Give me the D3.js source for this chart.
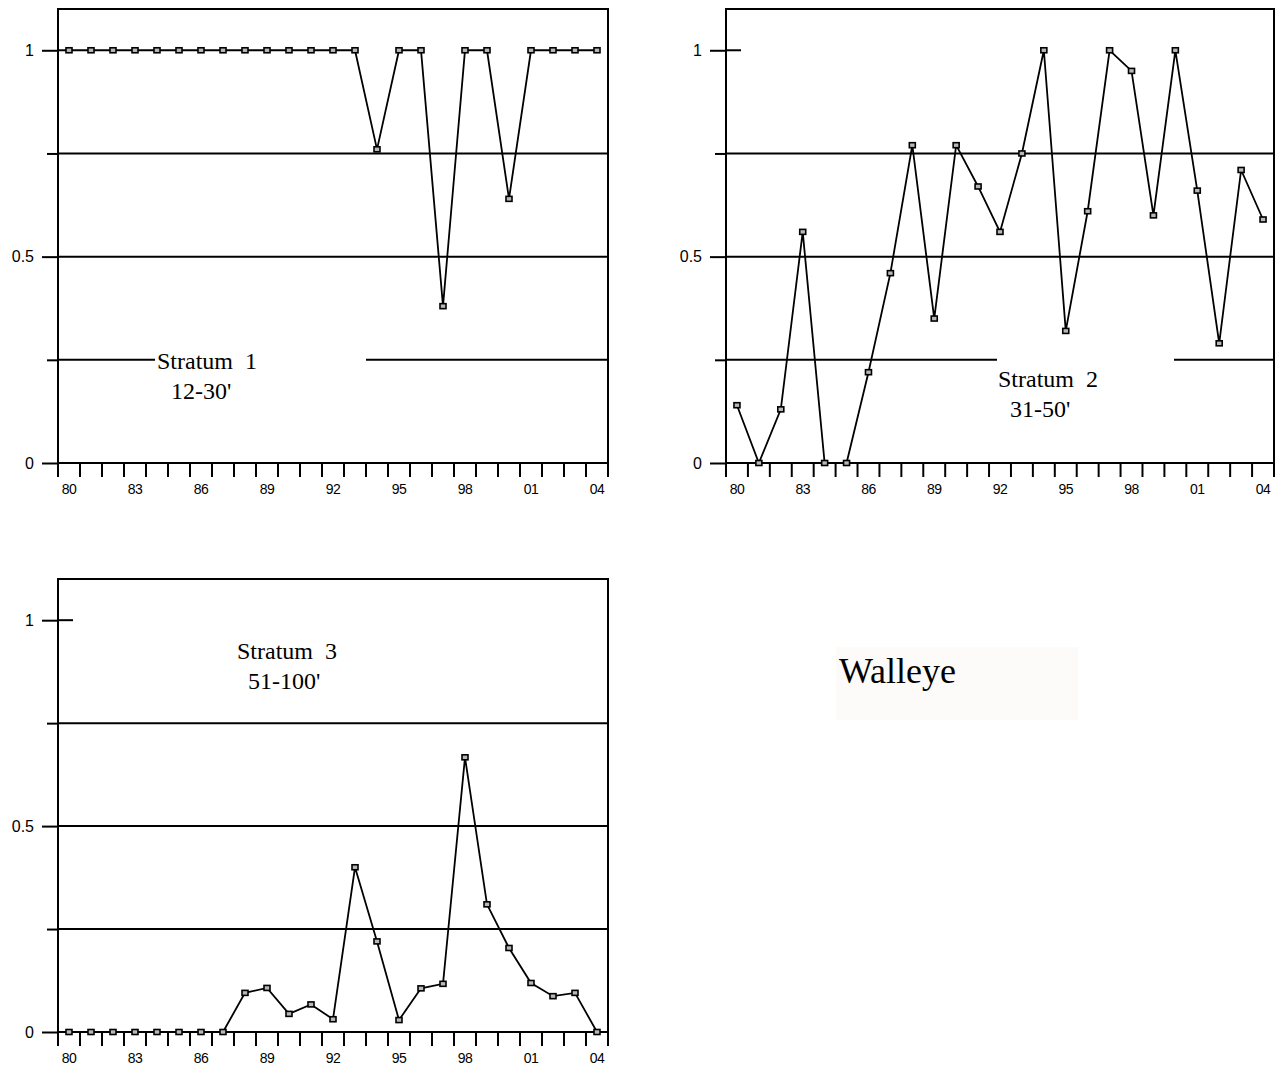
<!DOCTYPE html>
<html>
<head>
<meta charset="utf-8">
<script src="https://cdn.jsdelivr.net/npm/d3@7"></script>
<style>
  html, body { margin: 0; padding: 0; background: #fff; }
  svg { display: block; }
</style>
</head>
<body>
<svg id="chart" width="1281" height="1068"></svg>
<script>
// Survey years, 1980–2004 (two-digit labels)
const years = ["80","81","82","83","84","85","86","87","88","89","90","91","92",
               "93","94","95","96","97","98","99","00","01","02","03","04"];
const yearTickLabels = ["80","83","86","89","92","95","98","01","04"];

// Proportion values per depth stratum
const stratum1 = [1,1,1,1,1,1,1,1,1,1,1,1,1,1,0.76,1,1,0.38,1,1,0.64,1,1,1,1];
const stratum2 = [0.14,0,0.13,0.56,0,0,0.22,0.46,0.77,0.35,0.77,0.67,0.56,0.75,
                  1,0.32,0.61,1,0.95,0.60,1,0.66,0.29,0.71,0.59];
const stratum3 = [0,0,0,0,0,0,0,0,0.095,0.107,0.044,0.067,0.031,0.40,0.22,0.029,
                  0.106,0.117,0.667,0.31,0.204,0.119,0.087,0.095,0];

const yLabelTicks = [0, 0.5, 1];
const yMinorTicks = [0.25, 0.75];
const gridValues = [0.25, 0.5, 0.75];

const svg = d3.select("#chart");
svg.append("rect").attr("width", 1281).attr("height", 1068).attr("fill", "#fff");

function drawPanel(p) {
  const g = svg.append("g");
  const x = d3.scaleBand().domain(years).range([p.left, p.right]);
  const y = d3.scaleLinear().domain([0, 1.1]).range([p.zero, p.top]);

  // gridlines
  g.selectAll("line.grid").data(gridValues).join("line")
    .attr("x1", p.left).attr("x2", p.right)
    .attr("y1", d => y(d)).attr("y2", d => y(d))
    .attr("stroke", "#000").attr("stroke-width", 2);
  // short inner mark at 1
  g.append("line")
    .attr("x1", p.left).attr("x2", p.left + 15)
    .attr("y1", y(1)).attr("y2", y(1))
    .attr("stroke", "#000").attr("stroke-width", 2);

  // label box interrupting the gridline
  if (p.box) {
    g.append("rect")
      .attr("x", p.box[0]).attr("y", p.box[1])
      .attr("width", p.box[2]).attr("height", p.box[3])
      .attr("fill", "#fff");
  }

  // frame: top, left, right, bottom(0)
  g.append("path")
    .attr("d", `M${p.left},${p.zero}V${p.top}H${p.right}V${p.zero}`)
    .attr("fill", "none").attr("stroke", "#000").attr("stroke-width", 2);
  g.append("line")
    .attr("x1", p.left).attr("x2", p.right)
    .attr("y1", y(0)).attr("y2", y(0))
    .attr("stroke", "#000").attr("stroke-width", 2);

  // y axis: labelled ticks
  const yAxis = g.append("g").attr("transform", `translate(${p.left},0)`)
    .call(d3.axisLeft(y).tickValues(yLabelTicks).tickSize(16).tickPadding(8)
      .tickFormat(d3.format("")));
  yAxis.select(".domain").remove();
  yAxis.selectAll(".tick line").attr("stroke", "#000").attr("stroke-width", 2);
  yAxis.selectAll(".tick text")
    .attr("font-family", "'Liberation Sans', Arial, sans-serif")
    .attr("font-size", 16).attr("fill", "#000");

  // y axis: unlabelled ticks
  const yMinor = g.append("g").attr("transform", `translate(${p.left},0)`)
    .call(d3.axisLeft(y).tickValues(yMinorTicks).tickSize(11).tickFormat(""));
  yMinor.select(".domain").remove();
  yMinor.selectAll(".tick line").attr("stroke", "#000").attr("stroke-width", 2);

  // x ticks at year boundaries
  const bounds = years.map(d => x(d)).concat([p.right]);
  g.selectAll("line.xt").data(bounds).join("line")
    .attr("x1", d => d).attr("x2", d => d)
    .attr("y1", y(0)).attr("y2", y(0) + 14)
    .attr("stroke", "#000").attr("stroke-width", 2);
  g.selectAll("text.xl").data(yearTickLabels).join("text")
    .attr("x", d => x(d) + x.bandwidth() / 2)
    .attr("y", y(0) + 31)
    .attr("text-anchor", "middle")
    .attr("font-family", "'Liberation Sans', Arial, sans-serif")
    .attr("font-size", 14).attr("letter-spacing", -0.6)
    .attr("fill", "#000")
    .text(d => d);

  // series line + square markers
  const pts = years.map((yr, i) => ({ yr, v: p.values[i] }));
  const line = d3.line().x(d => x(d.yr) + x.bandwidth() / 2).y(d => y(d.v));
  g.append("path").datum(pts)
    .attr("d", line).attr("fill", "none")
    .attr("stroke", "#000").attr("stroke-width", 1.8);
  g.selectAll("rect.m").data(pts).join("rect")
    .attr("x", d => x(d.yr) + x.bandwidth() / 2 - 3)
    .attr("y", d => y(d.v) - 2.5)
    .attr("width", 6).attr("height", 5)
    .attr("fill", "#b8b8b8").attr("stroke", "#000").attr("stroke-width", 1.6);

  // stratum annotation
  const t = g.append("text")
    .attr("font-family", "'Liberation Serif', 'Times New Roman', serif")
    .attr("font-size", 24).attr("fill", "#000")
    .attr("xml:space", "preserve").style("white-space", "pre");
  t.append("tspan").attr("x", p.label[0]).attr("y", p.label[1]).text(p.title);
  t.append("tspan").attr("x", p.label[2]).attr("y", p.label[1] + 30).text(p.depth);
}

drawPanel({ left: 58, right: 608, top: 9, zero: 463, values: stratum1,
  title: "Stratum  1", depth: "12-30'", label: [157, 369, 171],
  box: [155, 345, 211, 62] });
drawPanel({ left: 726, right: 1274, top: 9, zero: 463, values: stratum2,
  title: "Stratum  2", depth: "31-50'", label: [998, 387, 1010],
  box: [997, 352, 177, 70] });
drawPanel({ left: 58, right: 608, top: 579, zero: 1032, values: stratum3,
  title: "Stratum  3", depth: "51-100'", label: [237, 659, 248] });

// species title
svg.append("rect").attr("x", 836).attr("y", 647).attr("width", 242).attr("height", 73)
  .attr("fill", "#fcfbfa");
svg.append("text").attr("x", 839).attr("y", 683)
  .attr("font-family", "'Liberation Serif', 'Times New Roman', serif")
  .attr("font-size", 36).attr("fill", "#000")
  .text("Walleye");
</script>
</body>
</html>
